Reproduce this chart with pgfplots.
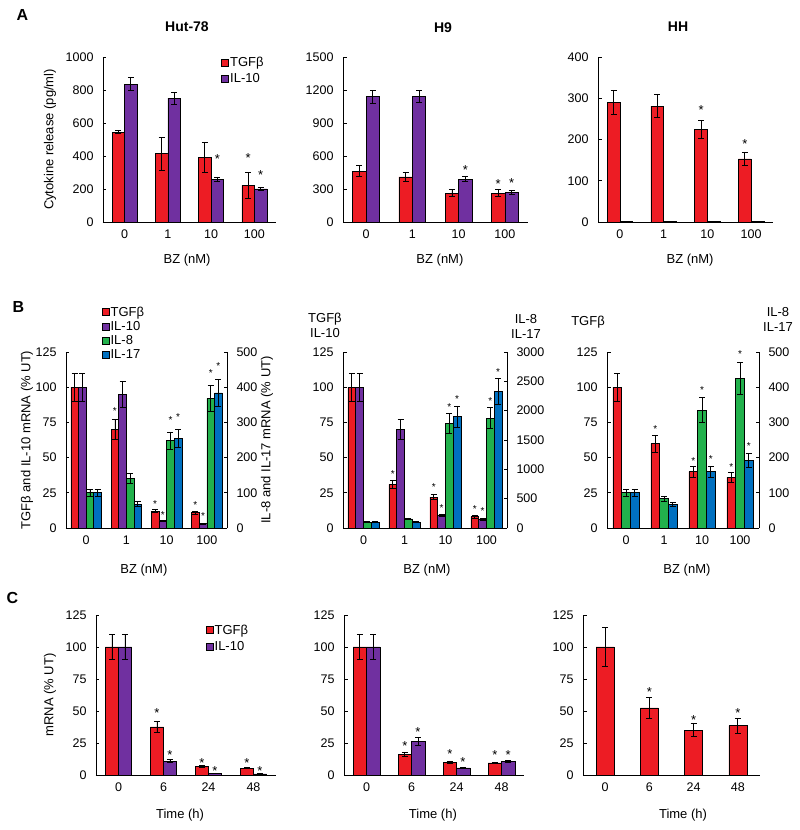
\documentclass[border=0pt]{standalone}
\usepackage{fontspec}
\setmainfont{Liberation Sans}
\usepackage{pgfplots}
\usepackage{pgfplotstable}
\pgfplotsset{compat=1.18}
\definecolor{cred}{RGB}{237,28,36}
\definecolor{cpur}{RGB}{112,48,160}
\definecolor{cgrn}{RGB}{34,177,76}
\definecolor{cblu}{RGB}{0,112,192}
\newcommand\tickfont{\fontsize{12.5}{14}\selectfont}
\newcommand\labfont{\fontsize{13}{15}\selectfont}

% ---------------- data ----------------
\pgfplotstableread[row sep=\\]{
x t te i ie \\
0 545 10 835 40 \\
1 415 100 750 35 \\
2 390 90 260 13 \\
3 222 80 200 8 \\
}\Aone
\pgfplotstableread[row sep=\\]{
x y \\ 2.145 398 \\ 2.855 408 \\ 3.145 300 \\
}\Aonestar
\pgfplotstableread[row sep=\\]{
x t te i ie \\
0 462 50 1140 58 \\
1 410 42 1140 55 \\
2 262 32 390 25 \\
3 262 30 268 15 \\
}\Atwo
\pgfplotstableread[row sep=\\]{
x y \\ 2.145 497 \\ 2.855 375 \\ 3.145 384 \\
}\Atwostar
\pgfplotstableread[row sep=\\]{
x t te i \\
0 289 29 1.5 \\
1 281 28 1.5 \\
2 225 22 1.5 \\
3 153 15 1.5 \\
}\Athree
\pgfplotstableread[row sep=\\]{
x y \\ 1.855 279 \\ 2.855 196 \\
}\Athreestar
\pgfplotstableread[row sep=\\]{
x t te i ie g ge b be \\
0 100 10 100 10 100 10 100 10 \\
1 70 7 95 9 140 14 68 7 \\
2 12 1 5 0.5 248 25 254 25 \\
3 11 1 3 0.3 368 36 384 38 \\
}\Bone
\pgfplotstableread[row sep=\\]{
x y \\ 0.715 84.5 \\ 1.715 18.7 \\ 1.905 10.7 \\ 2.715 18 \\ 2.905 10 \\
}\Bonestarl
\pgfplotstableread[row sep=\\]{
x y \\ 2.095 312 \\ 2.285 321 \\ 3.095 446 \\ 3.285 466 \\
}\Bonestarr
\pgfplotstableread[row sep=\\]{
x t te i ie g ge b be \\
0 100 10 100 10 100 10 100 10 \\
1 31 3 70 7 156 15 100 10 \\
2 22 2 9 1 1780 170 1900 180 \\
3 8 1 6 0.8 1870 180 2330 220 \\
}\Btwo
\pgfplotstableread[row sep=\\]{
x y \\ 0.715 40 \\ 1.715 31 \\ 1.905 16 \\ 2.715 15 \\ 2.905 13.5 \\
}\Btwostarl
\pgfplotstableread[row sep=\\]{
x y \\ 2.095 2100 \\ 2.285 2230 \\ 3.095 2200 \\ 3.285 2700 \\
}\Btwostarr
\pgfplotstableread[row sep=\\]{
x t te g ge b be \\
0 100 10 100 10 100 10 \\
1 60 6 83 8 66 6 \\
2 40 4 335 35 160 16 \\
3 36 3.5 425 45 193 20 \\
}\Bthree
\pgfplotstableread[row sep=\\]{
x y \\ 0.77 72 \\ 1.77 49.3 \\ 2.77 45 \\
}\Bthreestarl
\pgfplotstableread[row sep=\\]{
x y \\ 2 398 \\ 2.23 202 \\ 3 501 \\ 3.23 240 \\
}\Bthreestarr
\pgfplotstableread[row sep=\\]{
x t te i ie \\
0 100 10 100 10 \\
1 37.5 4 10.8 1 \\
2 6.7 0.7 1.3 0.3 \\
3 5.4 0.6 0.8 0.2 \\
}\Cone
\pgfplotstableread[row sep=\\]{
x y \\ 0.855 50.5 \\ 1.855 12.1 \\ 2.855 12.1 \\ 1.145 18.3 \\ 2.145 5.4 \\ 3.145 5.4 \\
}\Conestar
\pgfplotstableread[row sep=\\]{
x t te i ie \\
0 100 10 100 10 \\
1 16.4 1.5 26.5 3 \\
2 10 1 5.5 0.5 \\
3 9.5 0.7 10.6 1 \\
}\Ctwo
\pgfplotstableread[row sep=\\]{
x y \\ 0.855 24.7 \\ 1.855 18.4 \\ 2.855 17.7 \\ 1.145 36 \\ 2.145 12.6 \\ 3.145 17.7 \\
}\Ctwostar
\pgfplotstableread[row sep=\\]{
x t te \\
0 100 15 \\
1 52.4 8 \\
2 35 5 \\
3 38.5 6 \\
}\Cthree
\pgfplotstableread[row sep=\\]{
x y \\ 1 67 \\ 2 45.4 \\ 3 50.6 \\
}\Cthreestar

\pgfplotsset{
  panel/.style={
    scale only axis, clip=false,
    axis x line*=bottom, axis y line*=left,
    axis line style={-, line width=0.7pt, black},
    xmin=-0.5, xmax=3.5, ymin=0,
    xtick={0,1,2,3},
    major x tick style={draw=none},
    major tick length=3.5pt,
    major y tick style={line width=0.7pt, black},
    tick align=inside,
    scaled y ticks=false,
    /pgf/number format/assume math mode=true,
    /pgf/number format/1000 sep={},
    tick label style={font=\tickfont},
    xticklabel shift=4pt,
    yticklabel shift=6pt,
    label style={font=\labfont},
    legend image code/.code={\draw[#1, draw=black, line width=0.5pt] (0pt,-3.5pt) rectangle (7pt,3.5pt);},
    legend cell align=left,
  },
  bar/.style n args={3}{ybar, bar width=#1, bar shift=#2, fill=#3, draw=black, line width=0.6pt, forget plot,
    /pgfplots/error bars/y dir=both, /pgfplots/error bars/y explicit,
    /pgfplots/error bars/error bar style={line width=0.8pt, black, xshift=#2},
    /pgfplots/error bars/error mark options={rotate=90, mark size=3pt, line width=0.8pt, black}},
  bigstar/.style={only marks, mark=text, text mark={*}, text mark as node=true,
    text mark style={font=\fontsize{13}{13}\selectfont, anchor=base, yshift=-7.5pt, inner sep=0pt}, forget plot},
  smallstar/.style={only marks, mark=text, text mark={*}, text mark as node=true,
    text mark style={font=\fontsize{10}{10}\selectfont, anchor=base, yshift=-5.8pt, inner sep=0pt}, forget plot},
}

\begin{document}
\begin{tikzpicture}
\path[use as bounding box] (0pt,0pt) rectangle (800pt,830pt);

% panel letters and titles
\node[font=\bfseries\fontsize{16}{16}\selectfont] at (22.5pt,815pt) {A};
\node[font=\bfseries\fontsize{16}{16}\selectfont] at (18.5pt,523pt) {B};
\node[font=\bfseries\fontsize{16}{16}\selectfont] at (12.5pt,232pt) {C};
\node[font=\bfseries\fontsize{14}{14}\selectfont] at (187pt,803pt) {Hut-78};
\node[font=\bfseries\fontsize{14}{14}\selectfont] at (443pt,802pt) {H9};
\node[font=\bfseries\fontsize{14}{14}\selectfont] at (678pt,803pt) {HH};

% ---------- A1 ----------
\begin{axis}[panel, at={(103pt,608pt)}, anchor=south west, width=173pt, height=165pt,
  ymax=1000, ytick={0,200,...,1000}, xticklabels={0,1,10,100},
  xlabel={BZ (nM)}, xlabel style={at={(axis description cs:0.486,-0.23)}, anchor=center},
  ylabel={Cytokine release (pg/ml)}, ylabel style={at={(axis description cs:-0.306,0.5)}, anchor=center},
  legend style={at={(axis description cs:0.682,1.01)}, anchor=north west, draw=none, fill=none, inner sep=0pt, font=\labfont, row sep=2.5pt, nodes={inner sep=1.5pt}}]
\addplot[bar={12.5pt}{-6.27pt}{cred}] table[x=x,y=t,y error=te]{\Aone};
\addplot[bar={12.5pt}{6.27pt}{cpur}] table[x=x,y=i,y error=ie]{\Aone};
\addplot[bigstar] table[x=x,y=y]{\Aonestar};
\addlegendimage{fill=cred}\addlegendentry{TGFβ}
\addlegendimage{fill=cpur}\addlegendentry{IL-10}
\end{axis}

% ---------- A2 ----------
\begin{axis}[panel, at={(343pt,608pt)}, anchor=south west, width=185pt, height=165pt,
  ymax=1500, ytick={0,300,...,1500}, xticklabels={0,1,10,100},
  xlabel={BZ (nM)}, xlabel style={at={(axis description cs:0.524,-0.23)}, anchor=center}]
\addplot[bar={13.4pt}{-6.7pt}{cred}] table[x=x,y=t,y error=te]{\Atwo};
\addplot[bar={13.4pt}{6.7pt}{cpur}] table[x=x,y=i,y error=ie]{\Atwo};
\addplot[bigstar] table[x=x,y=y]{\Atwostar};
\end{axis}

% ---------- A3 ----------
\begin{axis}[panel, at={(598pt,608pt)}, anchor=south west, width=175pt, height=165pt,
  ymax=400, ytick={0,100,...,400}, xticklabels={0,1,10,100},
  xlabel={BZ (nM)}, xlabel style={at={(axis description cs:0.526,-0.23)}, anchor=center}]
\addplot[bar={12.7pt}{-6.35pt}{cred}] table[x=x,y=t,y error=te]{\Athree};
\addplot[ybar, bar width=12.7pt, bar shift=6.35pt, fill=cpur, draw=black, line width=0.6pt] table[x=x,y=i]{\Athree};
\addplot[bigstar] table[x=x,y=y]{\Athreestar};
\end{axis}

% ---------- B1 ----------
\begin{axis}[panel, at={(66pt,302pt)}, anchor=south west, width=161pt, height=176pt,
  ymax=125, ytick={0,25,...,125}, xticklabels={0,1,10,100},
  xlabel={BZ (nM)}, xlabel style={at={(axis description cs:0.484,-0.239)}, anchor=center},
  ylabel={TGFβ and IL-10 mRNA (\% UT)}, ylabel style={at={(axis description cs:-0.242,0.5)}, anchor=center},
  legend style={at={(axis description cs:0.22,1.267)}, anchor=north west, draw=none, fill=none, inner sep=0pt, font=\labfont, row sep=0.5pt, nodes={inner sep=1.5pt}}]
\addplot[bar={7.65pt}{-11.47pt}{cred}] table[x=x,y=t,y error=te]{\Bone};
\addplot[bar={7.65pt}{-3.82pt}{cpur}] table[x=x,y=i,y error=ie]{\Bone};
\addplot[smallstar] table[x=x,y=y]{\Bonestarl};
\addlegendimage{fill=cred}\addlegendentry{TGFβ}
\addlegendimage{fill=cpur}\addlegendentry{IL-10}
\addlegendimage{fill=cgrn}\addlegendentry{IL-8}
\addlegendimage{fill=cblu}\addlegendentry{IL-17}
\end{axis}
\begin{axis}[panel, at={(66pt,302pt)}, anchor=south west, width=161pt, height=176pt,
  axis x line=none, axis y line*=right, xtick=\empty,
  ymax=500, ytick={0,100,...,500},
  ylabel={IL-8 and IL-17 mRNA (\% UT)}, ylabel style={at={(axis description cs:1.248,0.5)}, anchor=center}]
\addplot[bar={7.65pt}{3.82pt}{cgrn}] table[x=x,y=g,y error=ge]{\Bone};
\addplot[bar={7.65pt}{11.47pt}{cblu}] table[x=x,y=b,y error=be]{\Bone};
\addplot[smallstar] table[x=x,y=y]{\Bonestarr};
\end{axis}

% ---------- B2 ----------
\begin{axis}[panel, at={(343pt,302pt)}, anchor=south west, width=164pt, height=176pt,
  ymax=125, ytick={0,25,...,125}, xticklabels={0,1,10,100},
  xlabel={BZ (nM)}, xlabel style={at={(axis description cs:0.512,-0.239)}, anchor=center},
  ylabel={TGFβ\\IL-10}, ylabel style={rotate=-90, align=center, at={(axis description cs:-0.11,1.15)}, anchor=center}]
\addplot[bar={7.8pt}{-11.7pt}{cred}] table[x=x,y=t,y error=te]{\Btwo};
\addplot[bar={7.8pt}{-3.9pt}{cpur}] table[x=x,y=i,y error=ie]{\Btwo};
\addplot[smallstar] table[x=x,y=y]{\Btwostarl};
\end{axis}
\begin{axis}[panel, at={(343pt,302pt)}, anchor=south west, width=164pt, height=176pt,
  axis x line=none, axis y line*=right, xtick=\empty,
  ymax=3000, ytick={0,500,...,3000},
  ylabel={IL-8\\IL-17}, ylabel style={rotate=-90, align=center, at={(axis description cs:1.116,1.145)}, anchor=center}]
\addplot[bar={7.8pt}{3.9pt}{cgrn}] table[x=x,y=g,y error=ge]{\Btwo};
\addplot[bar={7.8pt}{11.7pt}{cblu}] table[x=x,y=b,y error=be]{\Btwo};
\addplot[smallstar] table[x=x,y=y]{\Btwostarr};
\end{axis}

% ---------- B3 ----------
\begin{axis}[panel, at={(607pt,302pt)}, anchor=south west, width=152pt, height=176pt,
  ymax=125, ytick={0,25,...,125}, xticklabels={0,1,10,100},
  xlabel={BZ (nM)}, xlabel style={at={(axis description cs:0.526,-0.239)}, anchor=center},
  ylabel={TGFβ}, ylabel style={rotate=-90, at={(axis description cs:-0.125,1.17)}, anchor=center}]
\addplot[bar={8.74pt}{-8.74pt}{cred}] table[x=x,y=t,y error=te]{\Bthree};
\addplot[smallstar] table[x=x,y=y]{\Bthreestarl};
\end{axis}
\begin{axis}[panel, at={(607pt,302pt)}, anchor=south west, width=152pt, height=176pt,
  axis x line=none, axis y line*=right, xtick=\empty,
  ymax=500, ytick={0,100,...,500},
  ylabel={IL-8\\IL-17}, ylabel style={rotate=-90, align=center, at={(axis description cs:1.125,1.1875)}, anchor=center}]
\addplot[bar={8.74pt}{0pt}{cgrn}] table[x=x,y=g,y error=ge]{\Bthree};
\addplot[bar={8.74pt}{8.74pt}{cblu}] table[x=x,y=b,y error=be]{\Bthree};
\addplot[smallstar] table[x=x,y=y]{\Bthreestarr};
\end{axis}

% ---------- C1 ----------
\begin{axis}[panel, at={(96pt,55pt)}, anchor=south west, width=180pt, height=160pt,
  ymax=125, ytick={0,25,...,125}, xticklabels={0,6,24,48},
  xlabel={Time (h)}, xlabel style={at={(axis description cs:0.467,-0.25)}, anchor=center},
  ylabel={mRNA (\% UT)}, ylabel style={at={(axis description cs:-0.256,0.5)}, anchor=center},
  legend style={at={(axis description cs:0.608,0.95)}, anchor=north west, draw=none, fill=none, inner sep=0pt, font=\labfont, row sep=2.5pt, nodes={inner sep=1.5pt}}]
\addplot[bar={13.05pt}{-6.5pt}{cred}] table[x=x,y=t,y error=te]{\Cone};
\addplot[bar={13.05pt}{6.5pt}{cpur}] table[x=x,y=i,y error=ie]{\Cone};
\addplot[bigstar] table[x=x,y=y]{\Conestar};
\addlegendimage{fill=cred}\addlegendentry{TGFβ}
\addlegendimage{fill=cpur}\addlegendentry{IL-10}
\end{axis}

% ---------- C2 ----------
\begin{axis}[panel, at={(344pt,55pt)}, anchor=south west, width=180pt, height=160pt,
  ymax=125, ytick={0,25,...,125}, xticklabels={0,6,24,48},
  xlabel={Time (h)}, xlabel style={at={(axis description cs:0.494,-0.25)}, anchor=center}]
\addplot[bar={13.5pt}{-6.75pt}{cred}] table[x=x,y=t,y error=te]{\Ctwo};
\addplot[bar={13.5pt}{6.75pt}{cpur}] table[x=x,y=i,y error=ie]{\Ctwo};
\addplot[bigstar] table[x=x,y=y]{\Ctwostar};
\end{axis}

% ---------- C3 ----------
\begin{axis}[panel, at={(583pt,55pt)}, anchor=south west, width=177pt, height=160pt,
  ymax=125, ytick={0,25,...,125}, xticklabels={0,6,24,48},
  xlabel={Time (h)}, xlabel style={at={(axis description cs:0.565,-0.25)}, anchor=center}]
\addplot[bar={18.1pt}{0pt}{cred}] table[x=x,y=t,y error=te]{\Cthree};
\addplot[bigstar] table[x=x,y=y]{\Cthreestar};
\end{axis}
\end{tikzpicture}
\end{document}
